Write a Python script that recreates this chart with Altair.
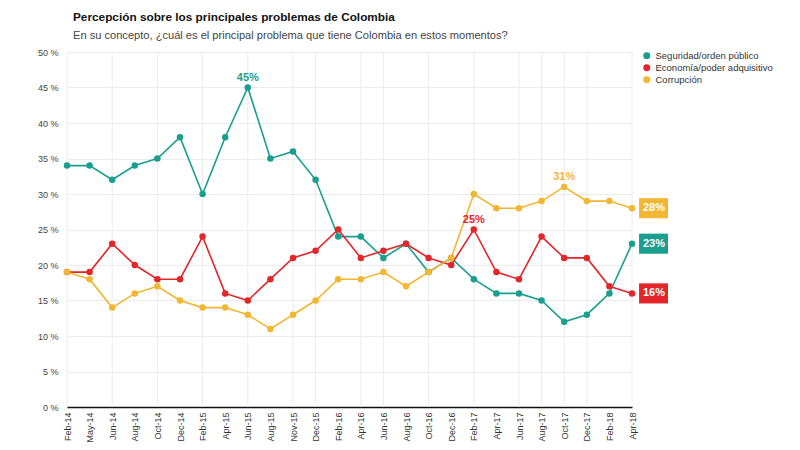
import altair as alt
import pandas as pd

months = ["Feb-14", "May-14", "Jun-14", "Aug-14", "Oct-14", "Dec-14", "Feb-15", "Apr-15",
          "Jun-15", "Aug-15", "Nov-15", "Dec-15", "Feb-16", "Apr-16", "Jun-16", "Aug-16",
          "Oct-16", "Dec-16", "Feb-17", "Apr-17", "Jun-17", "Aug-17", "Oct-17", "Dec-17",
          "Feb-18", "Apr-18"]
seguridad = [34, 34, 32, 34, 35, 38, 30, 38, 45, 35, 36, 32, 24, 24, 21, 23, 19, 21, 18, 16, 16, 15, 12, 13, 16, 23]
economia = [19, 19, 23, 20, 18, 18, 24, 16, 15, 18, 21, 22, 25, 21, 22, 23, 21, 20, 25, 19, 18, 24, 21, 21, 17, 16]
corrupcion = [19, 18, 14, 16, 17, 15, 14, 14, 13, 11, 13, 15, 18, 18, 19, 17, 19, 21, 30, 28, 28, 29, 31, 29, 29, 28]

series_names = ["Seguridad/orden público", "Economía/poder adquisitivo", "Corrupción"]
series_colors = ["#1a9e8f", "#e3262a", "#f2b632"]
y_ticks = [0, 5, 10, 15, 20, 25, 30, 35, 40, 45, 50]
grid_months = ["Feb-14", "Jun-14", "Oct-14", "Feb-15", "Jun-15", "Nov-15", "Dec-15", "Apr-16",
               "Jun-16", "Oct-16", "Feb-17", "Jun-17", "Aug-17", "Oct-17", "Dec-17", "Apr-18"]

# peak annotations: (series, month, label)
peaks = [("Seguridad/orden público", "Jun-15", "45%"),
         ("Economía/poder adquisitivo", "Feb-17", "25%"),
         ("Corrupción", "Oct-17", "31%")]

rows = []
for name, vals in zip(series_names, [seguridad, economia, corrupcion]):
    for m, v in zip(months, vals):
        rows.append({"month": m, "value": v, "serie": name})
df = pd.DataFrame(rows)

peak_rows = []
for name, m, lab in peaks:
    v = df[(df.serie == name) & (df.month == m)].value.iloc[0]
    peak_rows.append({"month": m, "value": v, "serie": name, "label": lab})
peak_df = pd.DataFrame(peak_rows)

end_df = df[df.month == months[-1]].copy()
end_df["label"] = end_df.value.astype(int).astype(str) + "%"

grid_df = pd.DataFrame({"month": grid_months})

xscale = alt.Scale(type="point", padding=0)
xaxis = alt.Axis(title=None, labelAngle=-90, labelFontSize=9, labelColor="#333",
                 ticks=False, domainColor="#111", domainWidth=1.5, grid=False,
                 labelPadding=5, labelFont="Liberation Sans")
xenc = alt.X("month:O", sort=months, scale=xscale, axis=xaxis)
yaxis = alt.Axis(title=None, values=y_ticks, labelOverlap=False,
                 labelExpr="datum.value + ' %'",
                 grid=True, gridColor="#ececec", domain=False, ticks=False,
                 labelPadding=9, labelFontSize=9, labelColor="#444",
                 labelFont="Liberation Sans")
yenc = alt.Y("value:Q", scale=alt.Scale(domain=[0, 50], nice=False), axis=yaxis)
cscale = alt.Scale(domain=series_names, range=series_colors)
color = alt.Color("serie:N", scale=cscale,
                  legend=alt.Legend(title=None, orient="none", legendX=575, legendY=-1,
                                    labelFontSize=9.5, labelColor="#333", symbolType="circle",
                                    symbolSize=30, rowPadding=0, labelFont="Liberation Sans"))
color_nl = alt.Color("serie:N", scale=cscale, legend=None)

grid = alt.Chart(grid_df).mark_rule(color="#ececec", strokeWidth=1).encode(x=xenc)

base = alt.Chart(df).encode(x=xenc, y=yenc, color=color)
lines = base.mark_line(strokeWidth=1.6)
points = base.mark_circle(size=42, opacity=1)

peak_text = alt.Chart(peak_df).mark_text(baseline="bottom", dy=-5, fontSize=11,
                                         fontWeight=600, font="Liberation Sans").encode(
    x=xenc, y=yenc, color=color_nl, text="label:N")

box_path = "M 0.47 -0.67 L 2.4 -0.67 L 2.4 0.67 L 0.47 0.67 Z"
boxes = alt.Chart(end_df).mark_point(shape=box_path, size=900, filled=True, opacity=1,
                                     strokeWidth=0).encode(x=xenc, y=yenc, color=color_nl)
box_text = alt.Chart(end_df).mark_text(dx=22, fontSize=11, fontWeight="bold", color="white",
                                       font="Liberation Sans").encode(
    x=xenc, y=yenc, text="label:N")

chart = alt.layer(grid, lines, points, peak_text, boxes, box_text).properties(
    width=565, height=355,
    title=alt.TitleParams(
        text="Percepción sobre los principales problemas de Colombia",
        subtitle="En su concepto, ¿cuál es el principal problema que tiene Colombia en estos momentos?",
        anchor="start", frame="group", dx=6, offset=7, fontSize=11.8, fontWeight="bold",
        color="#111", font="Liberation Sans", subtitleFont="Liberation Sans",
        subtitleFontSize=11.1, subtitleColor="#444", subtitlePadding=6),
    autosize=alt.AutoSizeParams(type="none"),
    padding={"left": 59, "top": 44, "right": 160, "bottom": 35},
).configure_view(stroke=None)

chart.save("out.html", embed_options={"renderer": "svg", "actions": False})
